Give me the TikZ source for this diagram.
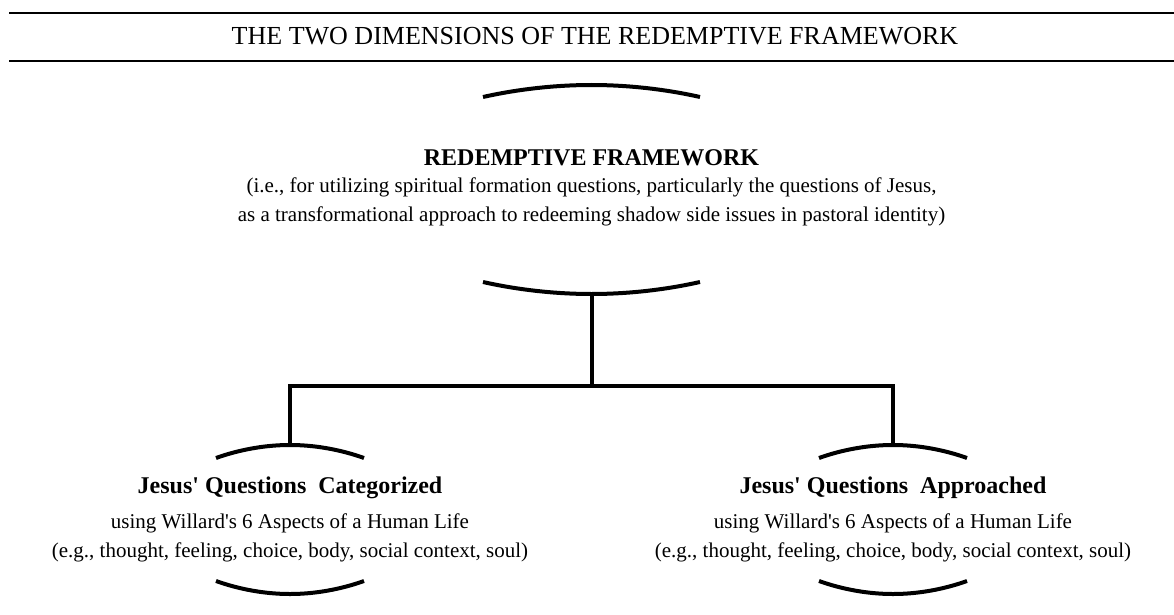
\documentclass[tikz,border=0pt]{standalone}
\usepackage{fontspec}
\setmainfont{Liberation Serif}
\usepackage{tikz}
\usetikzlibrary{positioning,calc}
\newcommand{\sq}{\textquotesingle}

\begin{document}
\begin{tikzpicture}[x=1pt, y=-1pt,
        rule/.style={line width=2.6pt},
        brow/.style={line width=4pt},
        link/.style={line width=4pt},
        title/.style={font=\fontsize{26}{30}\selectfont, inner sep=0pt},
        head/.style={font=\fontsize{24}{28}\selectfont\bfseries, inner sep=0pt},
        sub/.style={font=\fontsize{21}{25}\selectfont, inner sep=0pt}]
    \useasboundingbox (0,0) rectangle (1174,615);

    % header rules and title
    \coordinate (rl1) at (9,13);   \coordinate (rr1) at (1174,13);
    \coordinate (rl2) at (9,61);   \coordinate (rr2) at (1174,61);
    \draw[rule] (rl1) -- (rr1);
    \draw[rule] (rl2) -- (rr2);
    \node[title, anchor=base] (ttl) at (595,45) {THE TWO DIMENSIONS OF THE REDEMPTIVE FRAMEWORK};

    % top node
    \draw[brow] (483,97) parabola bend (591.5,85) (700,97);
    \node[head, anchor=base] (rf) at (591.5,165) {REDEMPTIVE FRAMEWORK};
    \node[sub, anchor=base] (rfa) at (591.5,192) {(i.e., for utilizing spiritual formation questions, particularly the questions of Jesus,};
    \node[sub, anchor=base] (rfb) at (591.5,221) {as a transformational approach to redeeming shadow side issues in pastoral identity)};
    \draw[brow] (483,282) parabola bend (591.5,294) (700,282);

    % left node
    \draw[brow] (216,458) parabola bend (290,445) (364,458);
    \node[head, anchor=base] (cat) at (290,493) {Jesus\sq{} Questions\ \ Categorized};
    \node[sub, anchor=base] (cata) at (290,528) {using Willard\sq{}s 6 Aspects of a Human Life};
    \node[sub, anchor=base] (catb) at (290,557) {(e.g., thought, feeling, choice, body, social context, soul)};
    \draw[brow] (216,581) parabola bend (290,594) (364,581);

    % right node
    \draw[brow] (819,458) parabola bend (893,445) (967,458);
    \node[head, anchor=base] (app) at (893,493) {Jesus\sq{} Questions\ \ Approached};
    \node[sub, anchor=base] (appa) at (893,528) {using Willard\sq{}s 6 Aspects of a Human Life};
    \node[sub, anchor=base] (appb) at (893,557) {(e.g., thought, feeling, choice, body, social context, soul)};
    \draw[brow] (819,581) parabola bend (893,594) (967,581);

    % connectors
    \coordinate (rfbot) at (591.5,294);
    \coordinate (jn) at (591.5,386);
    \coordinate (cattop) at (290,445);
    \coordinate (apptop) at (893,445);
    \draw[link] (rfbot) -- (jn);
    \draw[link] (jn) -| (cattop);
    \draw[link] (jn) -| (apptop);
\end{tikzpicture}
\end{document}
